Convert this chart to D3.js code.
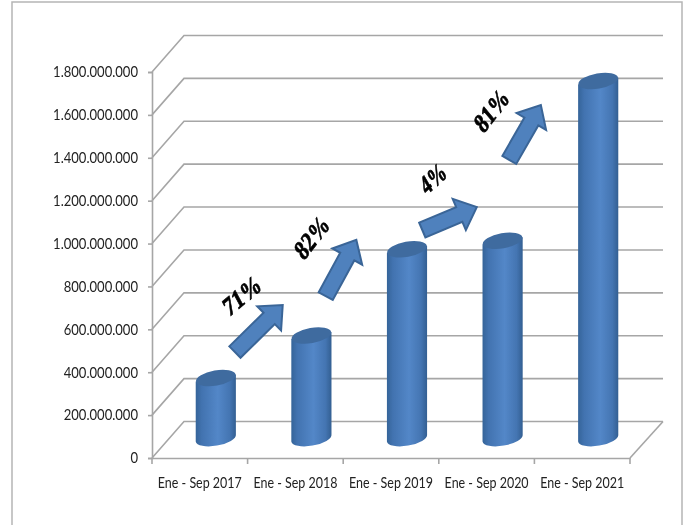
<!DOCTYPE html>
<html>
<head>
<meta charset="utf-8">
<script src="https://cdn.jsdelivr.net/npm/d3@7"></script>
<style>
html, body { margin: 0; padding: 0; background: #fff; }
svg { display: block; filter: blur(0.45px); }
.tick text { font-family: Lato, "Open Sans", sans-serif; fill: #222; }
</style>
</head>
<body>
<div id="chart"></div>
<script>
var categories = ["Ene - Sep 2017", "Ene - Sep 2018", "Ene - Sep 2019", "Ene - Sep 2020", "Ene - Sep 2021"];
var totals = [280000000, 478000000, 880000000, 920000000, 1665000000];
var yTicks = [0, 200000000, 400000000, 600000000, 800000000, 1000000000, 1200000000, 1400000000, 1600000000, 1800000000];
var growthLabels = ["71%", "82%", "4%", "81%"];
// arrows: position in category index units and in chart values
var arrowTailIndex = [0.2, 1.15, 2.16, 3.07];
var arrowTipIndex = [0.7, 1.47, 2.73, 3.4];
var arrowTailValue = [494000000, 755000000, 1063000000, 1390000000];
var arrowTipValue = [713000000, 1017000000, 1170000000, 1646000000];
var labelIndex = [0.27, 1.0, 2.27, 2.88];
var labelValue = [760000000, 1031000000, 1306000000, 1623000000];
var labelAngle = [-40, -52, -42, -52];

var width = 686, height = 525;
var margin = {left: 152, right: 56, top: 72, bottom: 67};
var depth = {x: 32, y: 36.5};
var barShift = {x: 16, y: 20};
var innerWidth = width - margin.left - margin.right;
var innerHeight = height - margin.top - margin.bottom;

var svg = d3.select("#chart").append("svg").attr("width", width).attr("height", height);

var defs = svg.append("defs");
var grad = defs.append("linearGradient").attr("id", "cyl").attr("x1", 0).attr("x2", 1).attr("y1", 0).attr("y2", 0);
grad.append("stop").attr("offset", "0%").attr("stop-color", "#356499");
grad.append("stop").attr("offset", "15%").attr("stop-color", "#4273b0");
grad.append("stop").attr("offset", "55%").attr("stop-color", "#5387c8");
grad.append("stop").attr("offset", "85%").attr("stop-color", "#4475b2");
grad.append("stop").attr("offset", "100%").attr("stop-color", "#335f92");

// outer frame
svg.append("rect").attr("x", 12).attr("y", 2).attr("width", 670).attr("height", 540)
    .attr("fill", "#fff").attr("stroke", "#b5b5b5").attr("stroke-width", 1.5);

var x = d3.scaleBand().domain(categories).range([0, innerWidth]).paddingInner(0.58).paddingOuter(0.29);
var y = d3.scaleLinear().domain([0, 1800000000]).range([innerHeight, 0]);
var idx = d3.scaleLinear().domain([0, 4]).range([
    x(categories[0]) + x.bandwidth() / 2 + barShift.x,
    x(categories[4]) + x.bandwidth() / 2 + barShift.x]);

var chart = svg.append("g").attr("transform", "translate(" + margin.left + "," + margin.top + ")");

// walls and floor
var grid = chart.append("g");
grid.selectAll("path").data(yTicks).enter().append("path")
    .attr("fill", "none")
    .attr("stroke", "#a6a6a6")
    .attr("stroke-width", 1.6)
    .attr("d", function(d) {
        return "M0," + y(d) + "L" + depth.x + "," + (y(d) - depth.y) + "L" + (innerWidth + depth.x + 1) + "," + (y(d) - depth.y);
    });
grid.append("path")
    .attr("fill", "none")
    .attr("stroke", "#a6a6a6")
    .attr("stroke-width", 1.6)
    .attr("d", "M" + innerWidth + "," + y(0) + "L" + (innerWidth + depth.x + 1) + "," + (y(0) - depth.y));

// axes
var fmt = d3.formatLocale({decimal: ",", thousands: ".", grouping: [3], currency: ["", ""]}).format(",d");
var yAxis = d3.axisLeft(y).tickValues(yTicks).tickFormat(fmt).tickSize(4).tickPadding(10);
var yG = chart.append("g").call(yAxis);
yG.selectAll("path, line").attr("stroke", "#a6a6a6").attr("stroke-width", 1.6);
yG.selectAll("text").attr("font-size", 15)
    .attr("lengthAdjust", "spacingAndGlyphs")
    .attr("textLength", function() { return this.getComputedTextLength() * 0.87; });

var xAxis = d3.axisBottom(x).tickSize(0).tickPadding(19);
var xG = chart.append("g").attr("transform", "translate(0," + innerHeight + ")").call(xAxis);
xG.selectAll("path").attr("stroke", "#a6a6a6").attr("stroke-width", 1.6);
xG.selectAll("text").attr("font-size", 15)
    .attr("lengthAdjust", "spacingAndGlyphs")
    .attr("textLength", 84);
xG.selectAll("line.sep").data(d3.range(categories.length + 1)).enter().append("line")
    .attr("class", "sep")
    .attr("x1", function(d) { return d * x.step(); })
    .attr("x2", function(d) { return d * x.step(); })
    .attr("y1", 0).attr("y2", 6)
    .attr("stroke", "#a6a6a6").attr("stroke-width", 1.6);

// cylinders
var rx = x.bandwidth() / 2, ry = 7.6, tilt = -10;
var bars = chart.selectAll("g.bar").data(categories).enter().append("g").attr("class", "bar")
    .attr("transform", function(d) { return "translate(" + (x(d) + rx + barShift.x) + ",0)"; });
bars.append("path")
    .attr("fill", "url(#cyl)")
    .attr("d", function(d, i) {
        var base = y(0) - barShift.y, top = y(totals[i]) - barShift.y;
        var dy = rx * Math.sin(tilt * Math.PI / 180);
        return "M" + (-rx) + "," + (top - dy) + "L" + (-rx) + "," + (base - dy)
            + "A" + rx + "," + ry + " " + tilt + " 0 0 " + rx + "," + (base + dy)
            + "L" + rx + "," + (top + dy) + "Z";
    });
bars.append("ellipse")
    .attr("rx", rx).attr("ry", ry)
    .attr("transform", function(d, i) { return "translate(0," + (y(totals[i]) - barShift.y) + ") rotate(" + tilt + ")"; })
    .attr("fill", "#3f6b9f");

// block arrows
var arrows = chart.selectAll("path.arrow").data(growthLabels).enter().append("path")
    .attr("class", "arrow")
    .attr("fill", "#4f81bd")
    .attr("stroke", "#3a6597")
    .attr("stroke-width", 2)
    .attr("stroke-linejoin", "miter")
    .attr("d", function(d, i) {
        var x0 = idx(arrowTailIndex[i]), y0 = y(arrowTailValue[i]);
        var x1 = idx(arrowTipIndex[i]), y1 = y(arrowTipValue[i]);
        var len = Math.hypot(x1 - x0, y1 - y0), ang = Math.atan2(y1 - y0, x1 - x0);
        var sw = 8, hw = 17, hl = 19;
        var pts = [[0, -sw], [len - hl, -sw], [len - hl, -hw], [len, 0], [len - hl, hw], [len - hl, sw], [0, sw]];
        return "M" + pts.map(function(p) {
            return (x0 + p[0] * Math.cos(ang) - p[1] * Math.sin(ang)) + "," + (y0 + p[0] * Math.sin(ang) + p[1] * Math.cos(ang));
        }).join("L") + "Z";
    });

// growth labels, squeezed along the baseline like the stretched original
chart.selectAll("text.growth").data(growthLabels).enter().append("text")
    .attr("class", "growth")
    .attr("text-anchor", "middle")
    .attr("dominant-baseline", "central")
    .attr("font-family", "'Liberation Serif', serif")
    .attr("font-size", 25)
    .attr("font-weight", "bold")
    .attr("fill", "#000")
    .attr("stroke", "#000")
    .attr("stroke-width", 0.7)
    .attr("lengthAdjust", "spacingAndGlyphs")
    .attr("textLength", function(d) { return d.length * 15 - 1; })
    .attr("transform", function(d, i) {
        return "translate(" + idx(labelIndex[i]) + "," + y(labelValue[i]) + ") rotate(" + labelAngle[i] + ") skewX(-12)";
    })
    .text(function(d) { return d; });
</script>
</body>
</html>
